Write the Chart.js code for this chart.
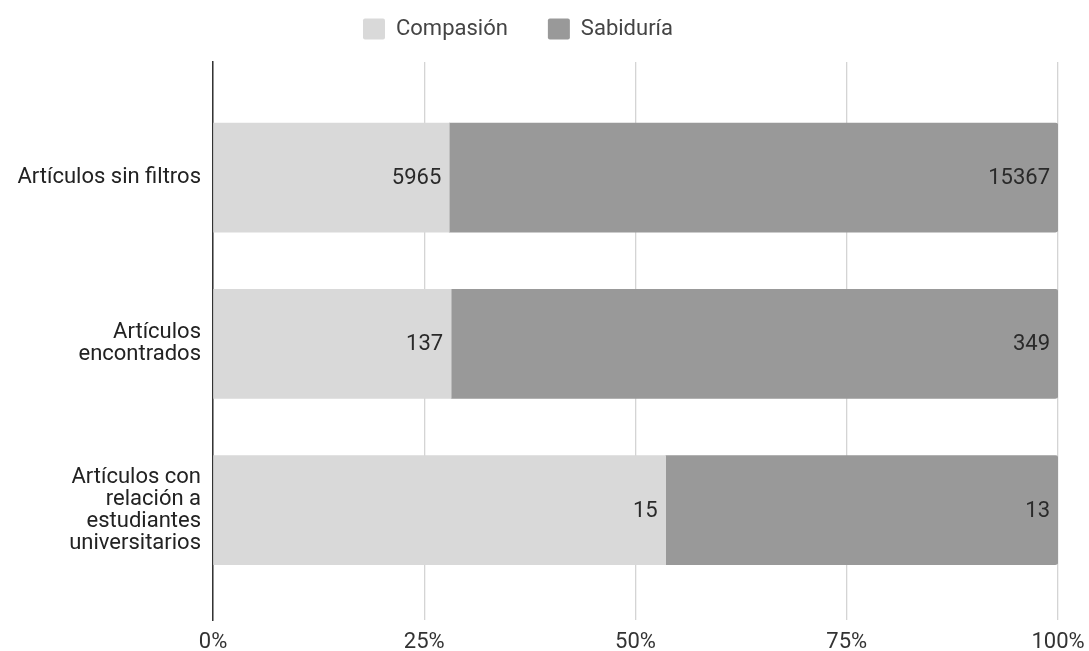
<!DOCTYPE html>
<html>
<head>
<meta charset="utf-8">
<script src="https://cdn.jsdelivr.net/npm/chart.js@4/dist/chart.umd.min.js"></script>
<style>
  html, body { margin: 0; padding: 0; background: #ffffff; }
  #wrap { width: 1089px; height: 651px; }
</style>
</head>
<body>
<div id="wrap"><canvas id="c"></canvas></div>
<script>
// ---- data ----
const categories = [
  ["Artículos sin filtros"],
  ["Artículos", "encontrados"],
  ["Artículos con", "relación a", "estudiantes", "universitarios"]
];
const seriesNames = ["Compasión", "Sabiduría"];
const compasion = [5965, 137, 15];
const sabiduria = [15367, 349, 13];
const xTicks = [0, 25, 50, 75, 100];

// ---- derived (100% stacked) ----
const totals = compasion.map((v, i) => v + sabiduria[i]);
const toPct = (arr) => arr.map((v, i) => ({ x: v / totals[i] * 100, y: i, raw: v }));

Chart.defaults.font.family = "Roboto, 'Noto Sans', sans-serif";
Chart.defaults.color = "#333";

const legendPatch = {
  id: 'legendPatch',
  beforeLayout(chart) {
    const lg = chart.legend;
    if (lg && !lg._patched) {
      const f = lg.fit;
      lg.fit = function () { f.call(this); this.height = 62; };
      lg._patched = true;
    }
  },
  afterLayout(chart) {
    const lg = chart.legend;
    if (lg) {
      lg.top -= 22; lg.bottom -= 22;
      lg.left -= 11; lg.right -= 11;
    }
  }
};

const valueLabels = {
  id: 'valueLabels',
  afterDatasetsDraw(chart) {
    const ctx = chart.ctx;
    ctx.save();
    ctx.font = "22px Roboto, 'Noto Sans', sans-serif";
    ctx.fillStyle = "#2a2a2a";
    ctx.textAlign = "right";
    ctx.textBaseline = "middle";
    chart.data.datasets.forEach((ds, di) => {
      const meta = chart.getDatasetMeta(di);
      meta.data.forEach((el, i) => {
        ctx.fillText(String(ds.data[i].raw), el.x - 8, el.y + 1);
      });
    });
    ctx.restore();
  }
};

new Chart(document.getElementById('c'), {
  type: 'bar',
  data: {
    datasets: [
      {
        label: seriesNames[0],
        data: toPct(compasion),
        backgroundColor: '#d9d9d9',
        borderWidth: 0,
        borderRadius: 0
      },
      {
        label: seriesNames[1],
        data: toPct(sabiduria),
        backgroundColor: '#999999',
        borderWidth: 0,
        borderRadius: 3
      }
    ]
  },
  options: {
    indexAxis: 'y',
    responsive: true,
    maintainAspectRatio: false,
    animation: false,
    layout: { padding: { left: 0, right: 31, top: 0, bottom: 0 } },
    barThickness: 109,
    plugins: {
      legend: {
        position: 'top',
        align: 'center',
        labels: {
          boxWidth: 22,
          boxHeight: 21,
          padding: 40,
          color: '#444',
          useBorderRadius: true,
          borderRadius: 2,
          font: { size: 22 }
        }
      },
      tooltip: { enabled: false }
    },
    scales: {
      x: {
        type: 'linear',
        stacked: true,
        min: 0,
        max: 100,
        afterBuildTicks: (s) => { s.ticks = xTicks.map(v => ({ value: v })); },
        afterFit: (s) => { s.height = 31; s.paddingRight = 0; s.paddingLeft = 0; },
        ticks: {
          padding: 9,
          color: '#333',
          font: { size: 22 },
          callback: (v) => v + '%'
        },
        grid: { color: '#d4d4d4', lineWidth: 1.3, drawTicks: false },
        border: { display: false }
      },
      y: {
        type: 'linear',
        stacked: true,
        reverse: true,
        offset: false,
        min: -0.695,
        max: 2.661,
        afterBuildTicks: (s) => { s.ticks = categories.map((c, i) => ({ value: i })); },
        afterFit: (s) => { s.width = 213; s.paddingTop = 0; s.paddingBottom = 0; },
        ticks: {
          padding: 12,
          color: '#222',
          font: { size: 22, lineHeight: 1.0 },
          callback: (v) => categories[v]
        },
        grid: { display: false, drawTicks: false, offset: false },
        border: { display: true, color: '#333', width: 1.5 }
      }
    }
  },
  plugins: [legendPatch, valueLabels]
});
</script>
</body>
</html>
